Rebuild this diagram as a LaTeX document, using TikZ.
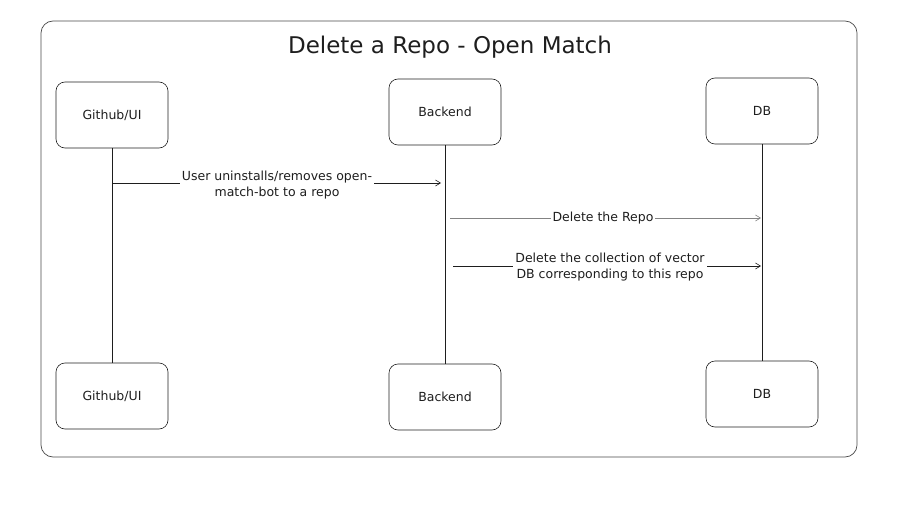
\documentclass[tikz,border=0pt]{standalone}
\usepackage{fontspec}
\setmainfont{DejaVu Sans}
\usetikzlibrary{arrows.meta}
\definecolor{ink}{HTML}{1E1E1E}

\begin{document}
\begin{tikzpicture}[x=1pt,y=-1pt,
  frame/.style={draw=ink!80, line width=0.7pt, rounded corners=12pt},
  actor/.style={draw=ink, line width=0.6pt, rounded corners=9pt, minimum width=112pt, minimum height=66pt, text=ink, font=\fontsize{12.5}{15}\selectfont},
  life/.style={draw=ink, line width=0.6pt},
  msg/.style={draw=ink, line width=0.6pt, -{Straight Barb[length=5pt,width=6pt]}},
  lbl/.style={fill=white, inner sep=2pt, align=center, text=ink, font=\fontsize{12.5}{16}\selectfont}]
      \useasboundingbox (0,0) rectangle (902,508);

      % CADRE + TITRE
      \draw[frame] (41,21) rectangle (857,457);
      \node[text=ink, font=\fontsize{23}{27}\selectfont] (title) at (450,47) {Delete a Repo - Open Match};

      % ACTEURS
      \node[actor] (ghTop) at (112,115) {Github/UI};
      \node[actor] (beTop) at (445,112) {Backend};
      \node[actor] (dbTop) at (762,111) {DB};
      \node[actor] (ghBot) at (112,396) {Github/UI};
      \node[actor] (beBot) at (445,397) {Backend};
      \node[actor] (dbBot) at (762,394) {DB};

      % LIGNES DE VIE
      \draw[life] (ghTop) -- (ghBot);
      \draw[life] (beTop) -- (beBot);
      \draw[life] (dbTop) -- (dbBot);

      \coordinate (m1a) at (113,183);
      \coordinate (m1b) at (441,183);
      \coordinate (m2a) at (450,218);
      \coordinate (m2b) at (761,218);
      \coordinate (m3a) at (453,266);
      \coordinate (m3b) at (761,266);

      % MESSAGES
      \draw[msg] (m1a) -- (m1b);
      \node[lbl] (m1txt) at (277,185) {User uninstalls/removes open-\\match-bot to a repo};
      \draw[msg, draw=ink!55] (m2a) -- (m2b);
      \node[lbl] (m2txt) at (603,218) {Delete the Repo};
      \draw[msg] (m3a) -- (m3b);
      \node[lbl] (m3txt) at (610,267) {Delete the collection of vector\\DB corresponding to this repo};
\end{tikzpicture}
\end{document}
